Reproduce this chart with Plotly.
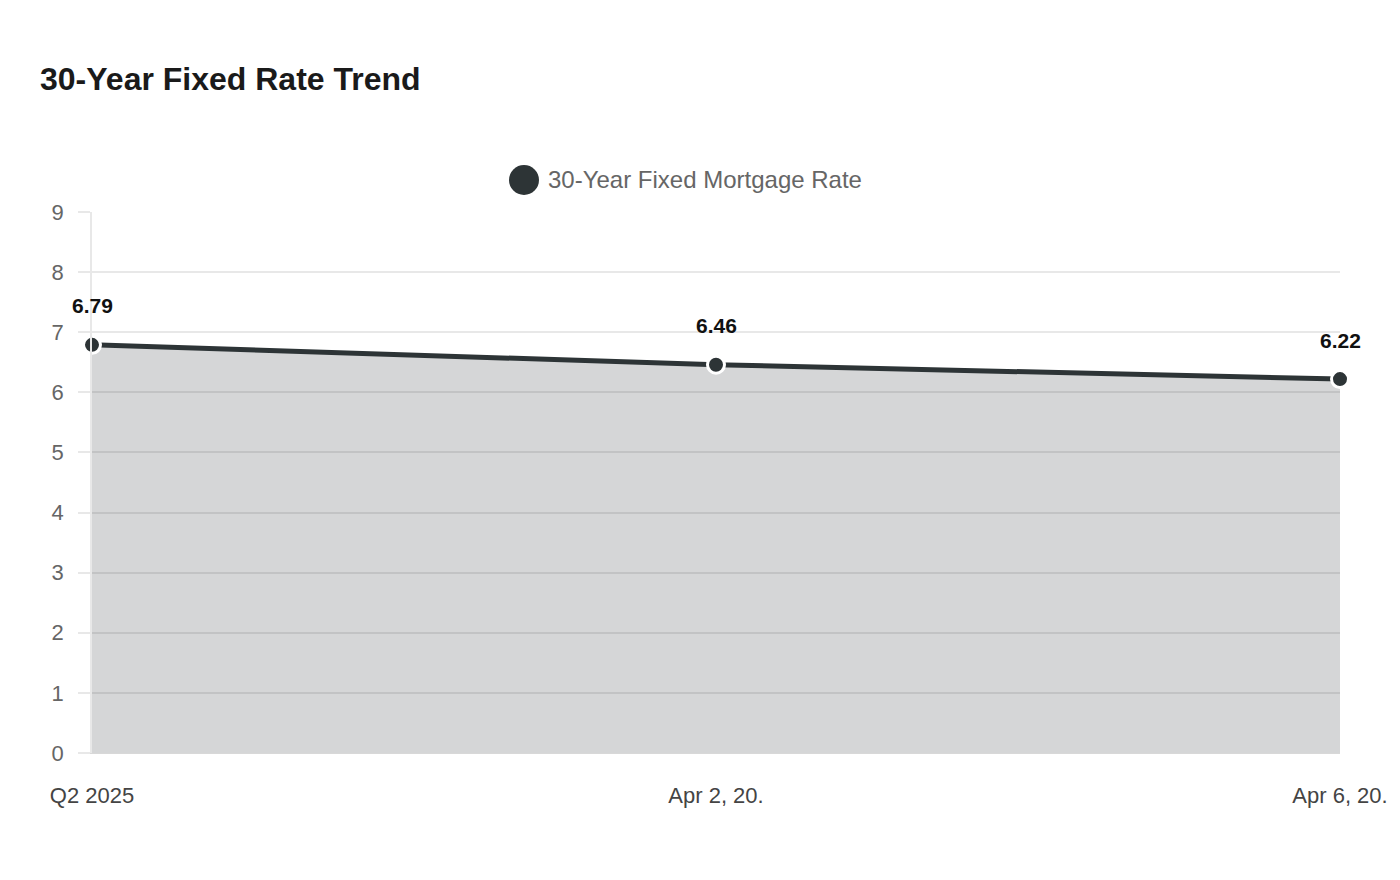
import plotly.graph_objects as go

categories = ["Q2 2025", "Apr 2, 20.", "Apr 6, 20."]
rates = [6.79, 6.46, 6.22]
x_pos = [0, 1, 2]
y_ticks = [0, 1, 2, 3, 4, 5, 6, 7, 8, 9]

LINE = "#2d3436"
FILL = "rgba(45,52,54,0.2)"
GRID = "#e8e8e8"
FONT = "Liberation Sans, Arial, sans-serif"

# plot area in page pixels (reference)
PL, PR, PT, PB = 92, 1340, 212, 753
PW, PH = PR - PL, PB - PT


def px(xp):
    return (xp - PL) / PW


def py(yp):
    return (PB - yp) / PH


fig = go.Figure()
fig.add_trace(go.Scatter(
    x=x_pos, y=rates, mode="lines+markers",
    line=dict(color=LINE, width=5),
    marker=dict(size=17, color=LINE, line=dict(color="white", width=3)),
    fill="tozeroy", fillcolor=FILL,
    name="30-Year Fixed Mortgage Rate", showlegend=False,
    cliponaxis=False,
))

annotations = []
for xv, yv in zip(x_pos, rates):
    annotations.append(dict(
        x=xv, y=yv, xref="x", yref="y", text=f"<b>{yv:.2f}</b>", showarrow=False,
        yshift=39, font=dict(family=FONT, size=21, color="#111111"),
    ))

annotations.append(dict(
    x=px(38), y=py(79), xref="paper", yref="paper",
    text="<b>30-Year Fixed Rate Trend</b>",
    showarrow=False, xanchor="left", yanchor="middle",
    font=dict(family=FONT, size=32, color="#1a1a1a"),
))
annotations.append(dict(
    x=px(546), y=py(180), xref="paper", yref="paper",
    text="30-Year Fixed Mortgage Rate", showarrow=False,
    xanchor="left", yanchor="middle",
    font=dict(family=FONT, size=24, color="#666666"),
))

shapes = [dict(
    type="circle", xref="paper", yref="paper",
    xsizemode="pixel", ysizemode="pixel",
    xanchor=px(524), yanchor=py(180),
    x0=-15, x1=15, y0=-15, y1=15,
    fillcolor=LINE, line=dict(width=0),
)]

OFF = 8  # page body margin
fig.update_layout(
    width=1400, height=880,
    margin=dict(l=PL - OFF, r=1400 - PR + OFF, t=PT - OFF, b=880 - PB + OFF),
    paper_bgcolor="white", plot_bgcolor="white",
    font=dict(family=FONT),
    annotations=annotations, shapes=shapes,
    showlegend=False,
    xaxis=dict(
        range=[0, 2], tickvals=x_pos, ticktext=categories,
        showgrid=False, zeroline=False,
        showline=True, linecolor="#d8d8d8", linewidth=1,
        ticks="", ticklabelstandoff=23,
        tickfont=dict(family=FONT, size=22, color="#444444"),
    ),
    yaxis=dict(
        range=[0, 9], tickvals=y_ticks,
        showgrid=True, gridcolor=GRID, gridwidth=1.5,
        zeroline=False, showline=True, linecolor=GRID, linewidth=1.5,
        ticks="outside", ticklen=12, tickcolor=GRID, tickwidth=1.5,
        ticklabelstandoff=10,
        tickfont=dict(family=FONT, size=22, color="#666666"),
    ),
)

fig.write_html("out.html")
